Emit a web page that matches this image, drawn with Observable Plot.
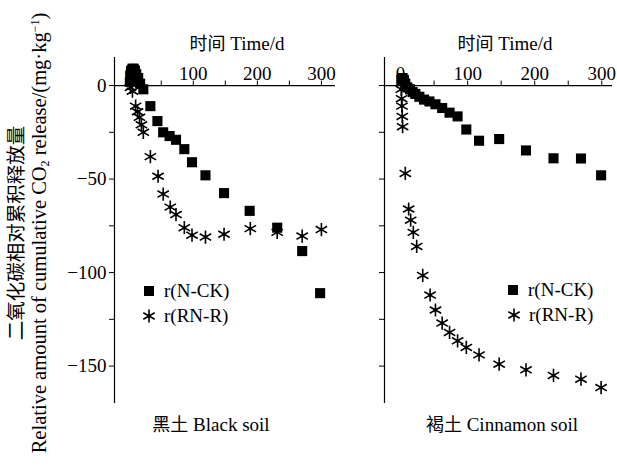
<!DOCTYPE html>
<html>
<head>
<meta charset="utf-8">
<script src="https://cdn.jsdelivr.net/npm/d3@7"></script>
<script src="https://cdn.jsdelivr.net/npm/@observablehq/plot@0.6"></script>
<style>
  html, body { margin: 0; padding: 0; background: #fff; }
  #wrap { position: relative; width: 617px; height: 470px; overflow: hidden; background: #fff;
          font-family: "Liberation Serif", "Noto Sans CJK SC", serif; color: #000; }
  .abs { position: absolute; white-space: nowrap; }
  .lbl { font-size: 19px; line-height: 22px; height: 22px; }
  .cn { font-family: "Noto Sans CJK SC", sans-serif; font-size: 18px; font-weight: 400; color: #000; }
</style>
</head>
<body>
<div id="wrap"></div>
<script>
// ---------------- data ----------------
const blackCKDays = [1, 2, 3, 5, 7, 9, 11, 14, 17, 22, 33, 44, 53, 63, 73, 86, 98, 119, 148, 188, 231, 270, 298];
const blackCKVals = [2, 5, 8, 9, 9, 8, 6, 4, 1, -2, -11, -19, -25, -27, -29, -34, -41, -48, -57.5, -67, -76, -88.5, -111];
const blackRNDays = [2, 5, 10, 13, 16, 19, 22, 33, 45, 53, 64, 73, 86, 98, 119, 148, 189, 231, 270, 300];
const blackRNVals = [-1, -3, -11, -14, -17, -21, -25, -38, -48.5, -58, -65, -69, -76, -80, -81, -79.5, -76.5, -78.5, -80.5, -77];

const cinnCKDays = [1, 3, 5, 7, 10, 14, 18, 22, 28, 35, 43, 52, 62, 73, 85, 98, 117, 147, 187, 228, 269, 299];
const cinnCKVals = [3, 4, 3, 1, -1, -2, -3.5, -4.5, -6, -7.5, -8.5, -10, -12, -14.5, -16.5, -23.5, -29.5, -28.6, -34.7, -38.9, -39, -48];
const cinnRNDays = [1, 1.5, 2, 2.5, 3, 7, 12, 15, 19, 24, 33, 44, 52, 62, 73, 85, 98, 117, 147, 187, 228, 269, 299];
const cinnRNVals = [-2, -7, -11, -16.5, -22, -47, -66, -72, -78.5, -86, -101.5, -112, -120, -127, -132, -136.5, -140, -144, -149, -152, -155, -157, -161.5];

const xTickLabels = [0, 100, 200, 300];
const xTickMarks = [0, 50, 100, 150, 200, 250, 300];
const yTickMarks = [0, -25, -50, -75, -100, -125, -150];
const yTickLabels = [0, -50, -100, -150];

const seriesNames = ["r(N-CK)", "r(RN-R)"];
const xTitle = "时间 Time/d";
const panelNames = ["黑土 Black soil", "褐土 Cinnamon soil"];

// ---------------- helpers ----------------
const toRows = (days, vals) => days.map((d, i) => ({day: d, val: vals[i]}));
const fmt = d => d === 0 ? "0" : (d < 0 ? "\u2212" + (-d) : String(d));

const star = {
  draw(ctx, size) {
    const r = Math.sqrt(size / Math.PI);
    ctx.moveTo(0, -r); ctx.lineTo(0, r);
    const cx = r * Math.cos(Math.PI / 6), cy = r * Math.sin(Math.PI / 6);
    ctx.moveTo(-cx, -cy); ctx.lineTo(cx, cy);
    ctx.moveTo(-cx, cy); ctx.lineTo(cx, -cy);
  }
};

function panel({ck, rn, width, marginLeft, marginRight, xDomain, showYLabels}) {
  return Plot.plot({
    width, height: 470,
    marginLeft, marginRight, marginTop: 57, marginBottom: 67,
    x: {domain: xDomain, axis: null},
    y: {domain: [-170, 15], label: null},
    style: {fontFamily: '"Liberation Serif", serif', fontSize: "19px", color: "#000", background: "transparent", overflow: "visible"},
    marks: [
      Plot.axisY({ticks: yTickMarks, tickSize: 5, tickPadding: 3, fontSize: 19, label: null,
                  tickFormat: d => (showYLabels && yTickLabels.includes(d)) ? fmt(d) : ""}),
      Plot.ruleX([xDomain[0]], {stroke: "#000", strokeWidth: 1.2}),
      Plot.ruleY([0], {stroke: "#000", strokeWidth: 1.2}),
      Plot.ruleX(xTickMarks, {x: d => d, y1: 0, y2: 2.4, stroke: "#000"}),
      Plot.text(xTickLabels, {x: d => d, y: 0, dy: -12, text: d => fmt(d), fontSize: 19}),
      Plot.dot(ck, {x: "day", y: "val", symbol: "square", r: 5.7, fill: "#000", stroke: "none"}),
      Plot.dot(rn, {x: "day", y: "val", symbol: star, r: 6.6, fill: "none", stroke: "#000", strokeWidth: 1.6}),
      Plot.dot(rn, {x: "day", y: "val", r: 1.8, fill: "#000", stroke: "none"})
    ]
  });
}

const wrap = document.getElementById("wrap");

const left = panel({
  ck: toRows(blackCKDays, blackCKVals), rn: toRows(blackRNDays, blackRNVals),
  width: 345, marginLeft: 114, marginRight: 10, xDomain: [-23, 322], showYLabels: true
});
left.style.position = "absolute"; left.style.left = "0px"; left.style.top = "0px";
wrap.appendChild(left);

const right = panel({
  ck: toRows(cinnCKDays, cinnCKVals), rn: toRows(cinnRNDays, cinnRNVals),
  width: 272, marginLeft: 39, marginRight: 5, xDomain: [-24, 316], showYLabels: false
});
right.style.position = "absolute"; right.style.left = "345px"; right.style.top = "0px";
wrap.appendChild(right);

// ---------------- text ----------------
function addText(html, cx, cy, cls) {
  const d = document.createElement("div");
  d.className = "abs lbl " + (cls || "");
  d.innerHTML = html;
  d.style.left = cx + "px";
  d.style.top = (cy - 11) + "px";
  d.style.transform = "translateX(-50%)";
  wrap.appendChild(d);
  return d;
}
function mixed(s) {
  const m = s.match(/^(\S+)\s(.*)$/);
  return `<span class="cn">${m[1]}</span> ${m[2]}`;
}
addText(mixed(xTitle), 237, 42);
addText(mixed(xTitle), 505, 42);
addText(mixed(panelNames[0]), 211, 423);
addText(mixed(panelNames[1]), 502, 423);

// y label (rotated, two lines)
const yl = document.createElement("div");
yl.className = "abs";
yl.style.left = "30px"; yl.style.top = "233px";
yl.style.width = "452px";
yl.style.textAlign = "center";
yl.style.transform = "translate(-50%, -50%) rotate(-90deg)";
yl.style.fontSize = "20.5px";
yl.style.lineHeight = "21px";
yl.innerHTML = `<div class="cn" style="font-size:19.5px">二氧化碳相对累积释放量</div>` +
  `<div>Relative amount of cumulative CO<sub style="font-size:12px;vertical-align:-3px">2</sub> release/(mg·kg<sup style="font-size:12px;vertical-align:7px">\u22121</sup>)</div>`;
wrap.appendChild(yl);

// legends
function legendItem(kind, cx, cy, label) {
  const s = document.createElementNS("http://www.w3.org/2000/svg", "svg");
  s.setAttribute("width", 18); s.setAttribute("height", 18);
  s.style.position = "absolute"; s.style.left = (cx - 9) + "px"; s.style.top = (cy - 9) + "px";
  if (kind === "square") {
    s.innerHTML = `<rect x="4" y="4" width="10" height="10" fill="#000"/>`;
  } else {
    const r = 6.6, c = r * Math.cos(Math.PI / 6), h = r * Math.sin(Math.PI / 6);
    s.innerHTML = `<g transform="translate(9,9)" stroke="#000" stroke-width="1.6" fill="none">
      <path d="M0,${-r}L0,${r}M${-c},${-h}L${c},${h}M${-c},${h}L${c},${-h}"/></g>
      <circle cx="9" cy="9" r="1.8" fill="#000"/>`;
  }
  wrap.appendChild(s);
  const t = document.createElement("div");
  t.className = "abs lbl";
  t.textContent = label;
  t.style.left = (cx + 15) + "px";
  t.style.top = (cy - 11) + "px";
  wrap.appendChild(t);
}
legendItem("square", 149, 291, seriesNames[0]);
legendItem("star", 149, 316, seriesNames[1]);
legendItem("square", 513, 290, seriesNames[0]);
legendItem("star", 514, 315, seriesNames[1]);
</script>
</body>
</html>
